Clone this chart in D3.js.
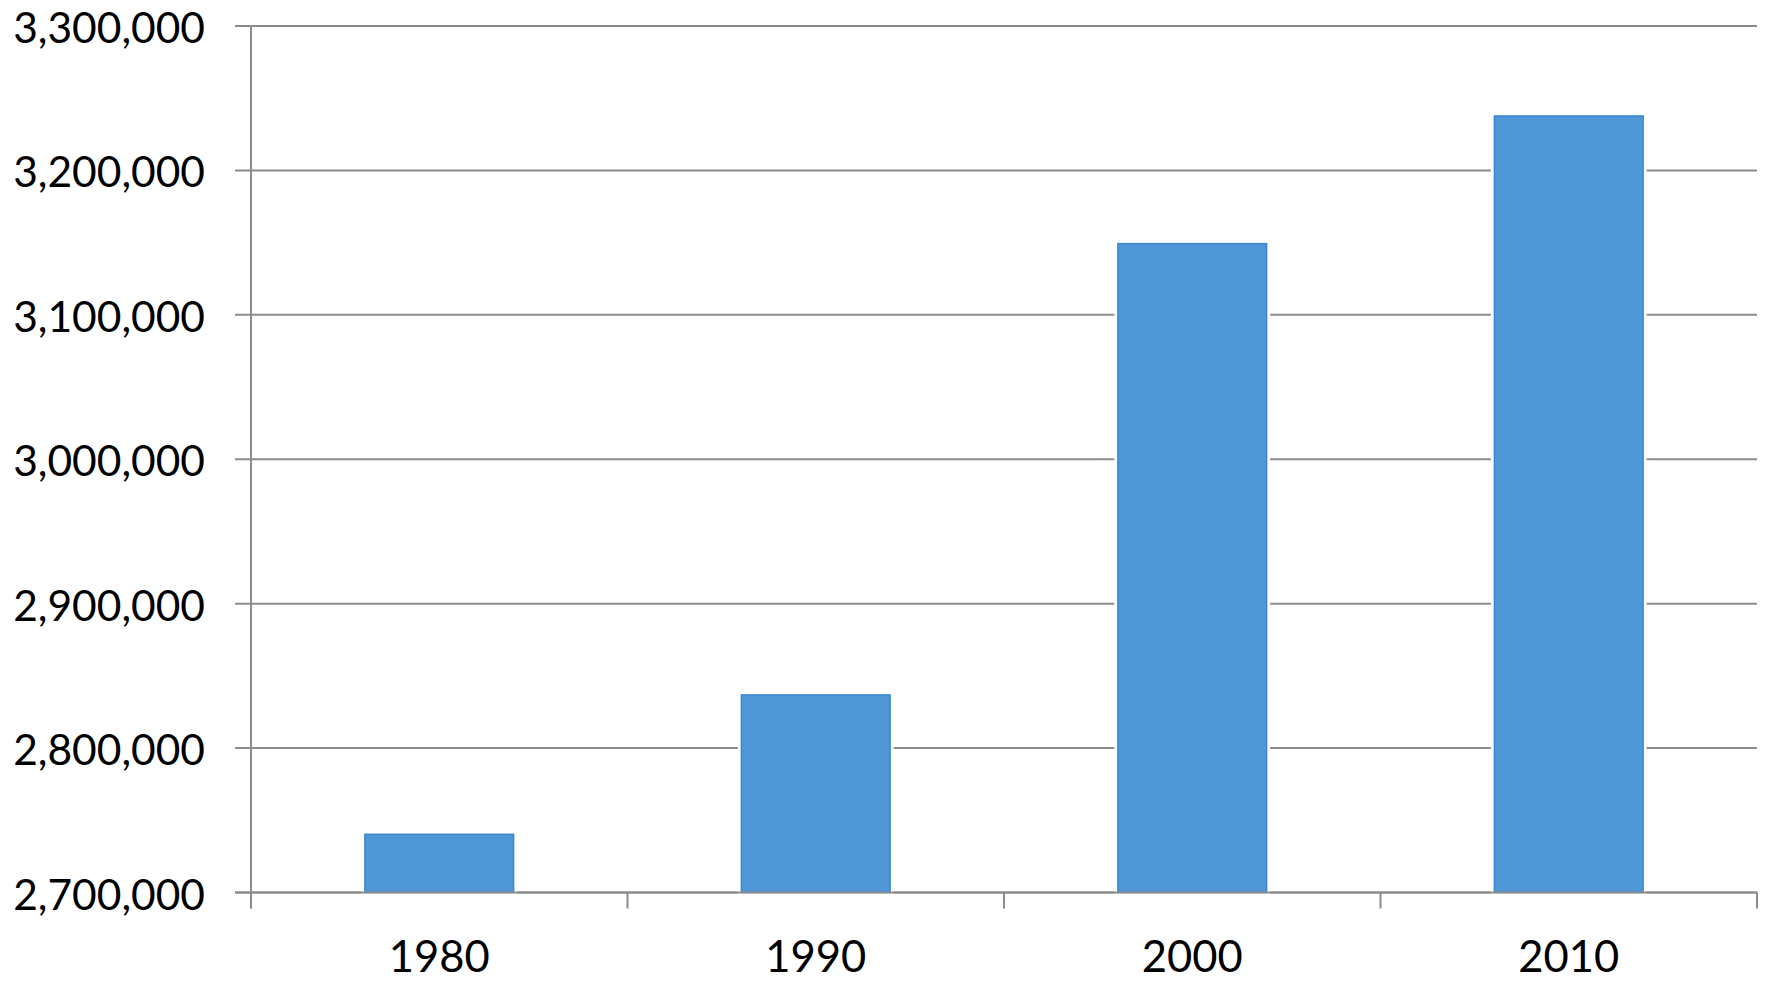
<!DOCTYPE html>
<html>
<head>
<meta charset="utf-8">
<script src="https://cdn.jsdelivr.net/npm/d3@7"></script>
<style>
  html, body { margin: 0; padding: 0; background: #fff; }
  svg text { font-family: Lato, "Open Sans", sans-serif; fill: #000; }
</style>
</head>
<body>
<svg id="chart" width="1772" height="985"></svg>
<script>
const categories = ["1980", "1990", "2000", "2010"];
const values = [2740300, 2836800, 3149300, 3237700];
const yTicks = [2700000, 2800000, 2900000, 3000000, 3100000, 3200000, 3300000];

(function () {
const svg = d3.select("#chart");
const mLeft = 251, mRight = 1757, mTop = 26, mBottom = 892.5;

const x = d3.scaleBand().domain(categories).range([mLeft, mRight]).paddingInner(0.605).paddingOuter(0.3025);
const xb = d3.scaleBand().domain(categories).range([mLeft, mRight]);
const y = d3.scaleLinear().domain([2700000, 3300000]).range([mBottom, mTop]);
const fmt = d3.format(",");
const grey = "#8c8c8c";

// gridlines with tick stubs to the left
svg.append("g").selectAll("line").data(yTicks).join("line")
  .attr("x1", mLeft - 16).attr("x2", mRight)
  .attr("y1", d => y(d)).attr("y2", d => y(d))
  .attr("stroke", grey).attr("stroke-width", 2);

// y labels
svg.append("g").selectAll("text").data(yTicks).join("text")
  .attr("x", 205).attr("y", d => y(d))
  .attr("dy", "0.4em")
  .attr("text-anchor", "end")
  .attr("font-size", 42.5)
  .text(d => fmt(d));

// y axis line
svg.append("line").attr("x1", mLeft).attr("x2", mLeft).attr("y1", mTop).attr("y2", mBottom + 16)
  .attr("stroke", grey).attr("stroke-width", 2);

// x category boundary ticks
const bounds = categories.map(c => xb(c) + xb.bandwidth()).concat([mLeft]);
svg.append("g").selectAll("line").data(bounds).join("line")
  .attr("x1", d => d).attr("x2", d => d)
  .attr("y1", mBottom).attr("y2", mBottom + 16)
  .attr("stroke", grey).attr("stroke-width", 2);

// white halo behind bars (gap in gridlines)
svg.append("g").selectAll("rect").data(values).join("rect")
  .attr("x", (d, i) => x(categories[i]))
  .attr("y", d => y(d))
  .attr("width", x.bandwidth())
  .attr("height", d => mBottom - y(d))
  .attr("fill", "#fff").attr("stroke", "#fff").attr("stroke-width", 7);

// bars
svg.append("g").selectAll("rect").data(values).join("rect")
  .attr("x", (d, i) => x(categories[i]))
  .attr("y", d => y(d))
  .attr("width", x.bandwidth())
  .attr("height", d => mBottom - y(d))
  .attr("fill", "#4f97d7").attr("stroke", "#3a87d0").attr("stroke-width", 1.5);

// baseline on top
svg.append("line").attr("x1", mLeft - 16).attr("x2", mRight).attr("y1", mBottom).attr("y2", mBottom)
  .attr("stroke", grey).attr("stroke-width", 2);

// x labels
svg.append("g").selectAll("text").data(categories).join("text")
  .attr("x", d => x(d) + x.bandwidth() / 2)
  .attr("y", 972)
  .attr("text-anchor", "middle")
  .attr("font-size", 43.5)
  .text(d => d);
})();
</script>
</body>
</html>
